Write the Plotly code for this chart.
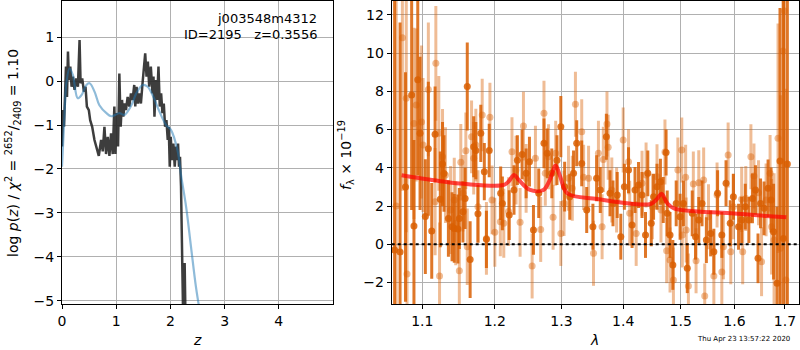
import plotly.graph_objects as go
import math

# ---------------- left panel: log p(z) ----------------
z_chi = [0.0, 0.018, 0.037, 0.055, 0.073, 0.092, 0.110, 0.128, 0.153, 0.177, 0.202, 0.232, 0.263, 0.294,
         0.324, 0.343, 0.373, 0.404, 0.434, 0.459, 0.495, 0.520, 0.557, 0.599, 0.642, 0.679, 0.722, 0.752,
         0.783, 0.813, 0.844, 0.875, 0.905, 0.936, 0.966, 0.985, 1.009, 1.034, 1.058, 1.083, 1.107, 1.131,
         1.156, 1.180, 1.211, 1.242, 1.272, 1.303, 1.333, 1.352, 1.376, 1.401, 1.425, 1.456, 1.486, 1.517,
         1.535, 1.560, 1.584, 1.609, 1.639, 1.670, 1.688, 1.706, 1.731, 1.755, 1.780, 1.804, 1.829, 1.853,
         1.878, 1.902, 1.927, 1.951, 1.969, 1.988, 2.006, 2.031, 2.055, 2.080, 2.104, 2.122, 2.141, 2.159,
         2.177, 2.196, 2.208, 2.220, 2.232, 2.251, 2.263, 2.275, 2.300]
logp_chi = [-1.49, -0.66, -1.04, -0.36, 0.33, -0.36, 0.67, 0.02, 0.33, -0.13, 0.10, -0.20, 0.06, -0.13,
            0.93, -0.05, 0.06, -0.24, -0.13, -0.58, -0.66, -0.89, -1.04, -1.34, -1.53, -1.70, -1.34, -1.60,
            -1.04, -1.66, -1.27, -1.70, -1.19, -1.66, -0.58, -1.66, -0.73, -1.49, 0.17, -1.04, -0.43, -0.81,
            -0.51, -0.66, -0.36, -0.58, -0.28, -0.43, -0.09, -0.58, -0.13, -0.51, -0.28, -0.51, -0.05, 0.33,
            0.63, 0.10, 0.44, -0.13, 0.33, -0.28, 0.10, -0.81, 0.02, -0.43, 0.33, -0.58, -0.28, -0.73,
            -0.51, -1.04, -0.89, -1.34, -1.04, -1.95, -1.27, -1.80, -1.42, -1.95, -1.49, -1.80, -1.42, -1.95,
            -1.72, -2.40, -3.01, -4.22, -5.13, -4.67, -4.14, -5.13, -7.0]

z_prior = [0.0, 0.05, 0.08, 0.14, 0.20, 0.29, 0.36, 0.45, 0.51, 0.60, 0.69, 0.82, 0.91, 1.06, 1.15,
           1.28, 1.37, 1.49, 1.58, 1.67, 1.80, 1.92, 2.01, 2.13, 2.20, 2.29, 2.38, 2.47, 2.52, 2.60]
logp_prior = [-1.95, -0.66, -0.05, 0.29, 0.14, -0.39, -0.32, -0.09, -0.05, -0.24, -0.55, -0.73, -0.80,
              -0.73, -0.77, -0.55, -0.28, -0.09, -0.13, -0.32, -0.70, -1.00, -1.11, -1.57, -2.17, -2.86,
              -3.77, -4.67, -5.07, -5.7]

# ---------------- right panel: spectrum ----------------
lam_a = [1.064, 1.071, 1.078, 1.086, 1.089, 1.094, 1.097, 1.104, 1.108, 1.1125, 1.117, 1.124, 1.127, 1.129,
         1.135, 1.140, 1.143, 1.148, 1.150, 1.155, 1.158, 1.161, 1.165, 1.170, 1.173, 1.176, 1.180, 1.185,
         1.188, 1.192, 1.2085, 1.211, 1.221, 1.228, 1.233, 1.240, 1.246, 1.251, 1.257, 1.265, 1.273, 1.278,
         1.285, 1.293, 1.299, 1.305, 1.313, 1.319, 1.324, 1.332, 1.340, 1.350, 1.356, 1.362, 1.372, 1.378,
         1.383, 1.390, 1.396, 1.402, 1.409, 1.415, 1.420, 1.426, 1.432, 1.438, 1.442, 1.448, 1.452, 1.458,
         1.464, 1.469, 1.474, 1.476, 1.481, 1.486, 1.492, 1.499, 1.505, 1.512, 1.521, 1.527, 1.533, 1.539,
         1.547, 1.555, 1.561, 1.568, 1.576, 1.584, 1.592, 1.598, 1.608, 1.614, 1.621, 1.628, 1.635, 1.641,
         1.646, 1.651, 1.658, 1.666, 1.672, 1.677, 1.684, 1.690, 1.697, 1.705]
flux_a = [-0.3, -0.4, 3.0, 7.8, 0.96, 8.6, 5.8, 1.45, 5.0, 0.7, 5.75, 2.35, 4.2, 3.7,
          1.35, 0.92, 0.83, 0.8, 1.35, 1.7, 2.4, 8.25, -0.8, 5.1, 4.9, 1.6, 5.8, 3.8,
          0.26, 4.9, 2.67, 2.14, 1.53, 2.84, 4.4, 4.7, 3.71, 4.32, 0.75, 2.67, 5.28, 4.76,
          3.71, 4.4, 6.15, 3.01, 2.49, 3.71, 5.28, 4.23, 1.79, 0.92, 3.45, 2.84, 5.62, 2.67,
          2.14, 2.58, 0.40, 3.01, 3.88, 1.01, 2.84, 3.1, 2.58, 0.49, 3.71, 1.1, 2.49, 3.01,
          3.27, 2.32, 4.8, 1.62, 0.49, -1.08, 2.14, 1.44, 2.14, -1.25, 1.62, 0.40, 1.27, 2.14,
          0.22, 0.57, -0.39, 2.67, 0.49, 3.19, 1.1, 2.49, 0.92, 1.27, 1.97, 1.27, 2.40, 2.84,
          -0.73, 2.14, 1.88, 2.93, 2.32, 0.66, -2.04, 4.35, 0.3, 4.2]
err_a = [15, 12, 6, 6, 4.5, 5, 4, 3, 3.5, 2.5, 2.5, 2.5, 2.2, 2.0,
         2.0, 1.8, 1.8, 1.8, 1.6, 1.6, 1.6, 2.3, 2.0, 1.6, 1.5, 1.5, 1.5, 1.5,
         1.5, 1.4, 1.4, 1.4, 1.3, 1.3, 1.3, 1.3, 1.3, 1.3, 1.3, 1.3, 1.3, 1.3,
         1.3, 1.3, 1.6, 1.3, 1.2, 1.2, 1.2, 1.2, 1.2, 1.2, 1.2, 1.2, 1.2, 1.2,
         1.2, 1.2, 1.2, 1.2, 1.2, 1.2, 1.2, 1.2, 1.2, 1.2, 1.2, 1.2, 1.2, 1.2,
         1.2, 1.2, 1.2, 1.2, 1.2, 1.3, 1.2, 1.2, 1.2, 1.3, 1.2, 1.2, 1.2, 1.2,
         1.2, 1.2, 1.2, 1.2, 1.2, 1.2, 1.2, 1.2, 1.2, 1.2, 1.2, 1.2, 1.3, 1.3,
         1.3, 1.3, 1.4, 1.5, 1.7, 2.5, 4.0, 8.0, 15, 15]

lam_b = [1.066, 1.074, 1.079, 1.080, 1.089, 1.092, 1.099, 1.101, 1.108, 1.118, 1.122, 1.117, 1.123, 1.127,
         1.131, 1.138, 1.143, 1.145, 1.150, 1.152, 1.155, 1.159, 1.161, 1.167, 1.170, 1.173, 1.176, 1.182,
         1.188, 1.193, 1.196, 1.200, 1.208, 1.213, 1.220, 1.225, 1.231, 1.237, 1.242, 1.246, 1.255, 1.260,
         1.268, 1.273, 1.275, 1.280, 1.287, 1.291, 1.299, 1.304, 1.311, 1.317, 1.322, 1.332, 1.335, 1.343,
         1.351, 1.359, 1.365, 1.367, 1.373, 1.375, 1.381, 1.389, 1.400, 1.409, 1.411, 1.422, 1.432, 1.439,
         1.450, 1.458, 1.465, 1.472, 1.475, 1.481, 1.487, 1.495, 1.502, 1.503, 1.509, 1.510, 1.514, 1.523,
         1.528, 1.533, 1.542, 1.544, 1.551, 1.561, 1.567, 1.576, 1.579, 1.588, 1.593, 1.598, 1.614, 1.616,
         1.622, 1.632, 1.638, 1.647, 1.653, 1.662, 1.670, 1.673, 1.678, 1.686, 1.691, 1.696, 1.699, 1.702]
flux_b = [2.0, 10.8, 7.63, -1.55, 6.32, 7.28, 6.4, 5.19, 8.1, 9.46, 5.8, 2.23, -1.66, 4.58,
          3.62, 1.79, 2.32, 1.1, -1.38, 4.29, 2.67, 4.89, -0.13, 5.62, 4.5, 5.19, 1.97, 6.76,
          0.31, 6.64, 2.32, 0.63, 1.18, 1.1, 1.71, 4.84, 3.88, 1.15, 6.18, 3.45, -1.13, 4.5,
          0.78, 6.85, 3.71, 4.58, 1.41, 4.76, 0.57, 2.14, 3.45, 2.93, 7.32, 5.89, 3.5, 3.45,
          -0.47, 4.76, 0.92, 4.44, 6.29, 5.07, 2.84, 2.32, 5.45, 4.32, 1.62, 0.57, 3.19, 3.62,
          1.97, 3.53, 1.79, 4.83, -0.33, -0.82, -1.87, 3.88, 4.93, 0.49, 3.5, 0.75, -2.18, 3.15,
          -0.86, 3.22, 3.36, -2.7, 1.44, -1.66, 2.58, -1.45, -0.13, 4.67, -0.39, 1.97, 2.35, -0.39,
          2.4, 4.58, 3.57, 2.7, -0.91, 2.32, 3.71, 0.92, 0.22, 5.54, -0.21, 10.1, 12.2, -1.87]
err_b = [14, 8, 7, 5, 5, 4, 4, 3.5, 3.5, 3, 3, 2.8, 2.8, 2.5,
         2.5, 2.3, 2.2, 2.2, 2.2, 2.0, 2.0, 2.0, 2.0, 1.9, 1.9, 1.9, 1.9, 1.9,
         1.9, 1.8, 1.8, 1.8, 1.8, 1.8, 1.8, 1.8, 1.8, 1.8, 1.8, 1.8, 1.7, 1.7,
         1.7, 1.7, 1.7, 1.7, 1.7, 1.7, 1.7, 1.7, 1.7, 1.7, 1.7, 1.7, 1.7, 1.7,
         1.7, 1.7, 1.7, 1.7, 1.7, 1.7, 1.7, 1.7, 1.7, 1.7, 1.7, 1.7, 1.7, 1.7,
         1.7, 1.7, 1.7, 1.7, 1.7, 1.7, 1.7, 1.7, 1.7, 1.7, 1.7, 1.7, 1.7, 1.7,
         1.7, 1.7, 1.7, 1.7, 1.7, 1.7, 1.7, 1.7, 1.7, 1.7, 1.7, 1.7, 1.7, 1.7,
         1.7, 1.7, 1.7, 1.7, 1.8, 1.9, 2.0, 2.5, 3.5, 6, 8, 10, 12, 10]

lam_model = [1.073, 1.128, 1.156, 1.2125, 1.220, 1.228, 1.235, 1.252, 1.272, 1.282, 1.291, 1.298, 1.309,
             1.357, 1.447, 1.458, 1.466, 1.476, 1.488, 1.593, 1.703]
flux_model = [3.61, 3.28, 3.16, 3.10, 3.28, 3.63, 3.37, 2.84, 2.84, 3.37, 4.12, 3.54, 2.67,
              2.37, 2.11, 2.37, 2.64, 2.15, 1.88, 1.62, 1.41]

lam_ticks = [1.1, 1.2, 1.3, 1.4, 1.5, 1.6, 1.7]
z_ticks = [0, 1, 2, 3, 4]
logp_ticks = [-5, -4, -3, -2, -1, 0, 1]
flux_ticks = [-2, 0, 2, 4, 6, 8, 10, 12]

DARK = "rgba(217,95,2,0.85)"
LIGHT = "rgba(217,95,2,0.42)"
FONT = "DejaVu Sans"

fig = go.Figure()

fig.add_trace(go.Scatter(x=z_chi, y=logp_chi, mode="lines",
                         line=dict(color="rgba(40,40,40,0.9)", width=2.5),
                         xaxis="x", yaxis="y", showlegend=False))
fig.add_trace(go.Scatter(x=z_prior, y=logp_prior, mode="lines", line_shape="spline",
                         line=dict(color="rgba(31,119,180,0.5)", width=2.2),
                         xaxis="x", yaxis="y", showlegend=False))

fig.add_trace(go.Scatter(x=lam_b, y=flux_b, mode="markers",
                         marker=dict(color=LIGHT, size=7),
                         error_y=dict(type="data", array=err_b, color=LIGHT, thickness=3, width=0),
                         xaxis="x2", yaxis="y2", showlegend=False))
fig.add_trace(go.Scatter(x=lam_a, y=flux_a, mode="markers",
                         marker=dict(color=DARK, size=7),
                         error_y=dict(type="data", array=err_a, color=DARK, thickness=3, width=0),
                         xaxis="x2", yaxis="y2", showlegend=False))
fig.add_trace(go.Scatter(x=lam_model, y=flux_model, mode="lines", line_shape="spline",
                         line=dict(color="rgba(255,0,0,0.7)", width=4),
                         xaxis="x2", yaxis="y2", showlegend=False))

axis_common = dict(showline=True, linecolor="black", linewidth=1, mirror=True,
                   showgrid=True, gridcolor="#b0b0b0", gridwidth=1, automargin=False,
                   ticks="outside", ticklen=4, tickcolor="black",
                   tickfont=dict(family=FONT, size=14, color="black"), zeroline=False)

W, H = 800, 350
fig.update_layout(
    width=W, height=H, margin=dict(l=0, r=0, t=0, b=0, autoexpand=False),
    paper_bgcolor="white", plot_bgcolor="white",
    xaxis=dict(domain=[62 / W, 333 / W], range=[0, 5], tickvals=z_ticks, anchor="y", **axis_common),
    yaxis=dict(domain=[1 - 304 / H, 1 - 1 / H], range=[-5.07, 1.82], tickvals=logp_ticks,
               anchor="x", **axis_common),
    xaxis2=dict(domain=[391.7 / W, 799 / W], type="log",
                range=[math.log10(1.0603), math.log10(1.729)],
                tickvals=lam_ticks, ticktext=[f"{v:.1f}" for v in lam_ticks], anchor="y2", **axis_common),
    yaxis2=dict(domain=[1 - 304 / H, 1 - 1 / H], range=[-3.12, 12.72], tickvals=flux_ticks,
                anchor="x2", **axis_common),
    shapes=[dict(type="line", xref="x2 domain", yref="y2", x0=0, x1=1, y0=0, y1=0,
                 line=dict(color="black", width=2, dash="dot"), layer="above")],
    annotations=[
        dict(text="j003548m4312", xref="paper", yref="paper", x=319 / W, y=1 - 19 / H,
             xanchor="right", yanchor="middle", showarrow=False,
             font=dict(family=FONT, size=13, color="black")),
        dict(text="ID=2195   z=0.3556", xref="paper", yref="paper", x=319 / W, y=1 - 35 / H,
             xanchor="right", yanchor="middle", showarrow=False,
             font=dict(family=FONT, size=13, color="black")),
        dict(text="<i>z</i>", xref="paper", yref="paper", x=197 / W, y=1 - 340 / H,
             xanchor="center", yanchor="middle", showarrow=False,
             font=dict(family=FONT, size=14, color="black")),
        dict(text="<i>λ</i>", xref="paper", yref="paper", x=594 / W, y=1 - 340 / H,
             xanchor="center", yanchor="middle", showarrow=False,
             font=dict(family=FONT, size=14, color="black")),
        dict(text="log <i>p</i>(<i>z</i>) / <i>χ</i><sup>2</sup> = <sup>2652</sup>/<sub>2409</sub> = 1.10",
             xref="paper", yref="paper", x=13 / W, y=1 - 153 / H, textangle=-90,
             xanchor="center", yanchor="middle", showarrow=False,
             font=dict(family=FONT, size=14, color="black")),
        dict(text="<i>f</i><sub>λ</sub> × 10<sup>−19</sup>",
             xref="paper", yref="paper", x=346 / W, y=1 - 155 / H, textangle=-90,
             xanchor="center", yanchor="middle", showarrow=False,
             font=dict(family=FONT, size=14, color="black")),
        dict(text="Thu Apr 23 13:57:22 2020", xref="paper", yref="paper", x=743 / W, y=1 - 339 / H,
             xanchor="center", yanchor="middle", showarrow=False,
             font=dict(family=FONT, size=7, color="black")),
    ],
)

fig.write_html("out.html", config={"displayModeBar": False},
               post_script="document.body.style.margin='0';document.body.style.overflow='hidden';")
